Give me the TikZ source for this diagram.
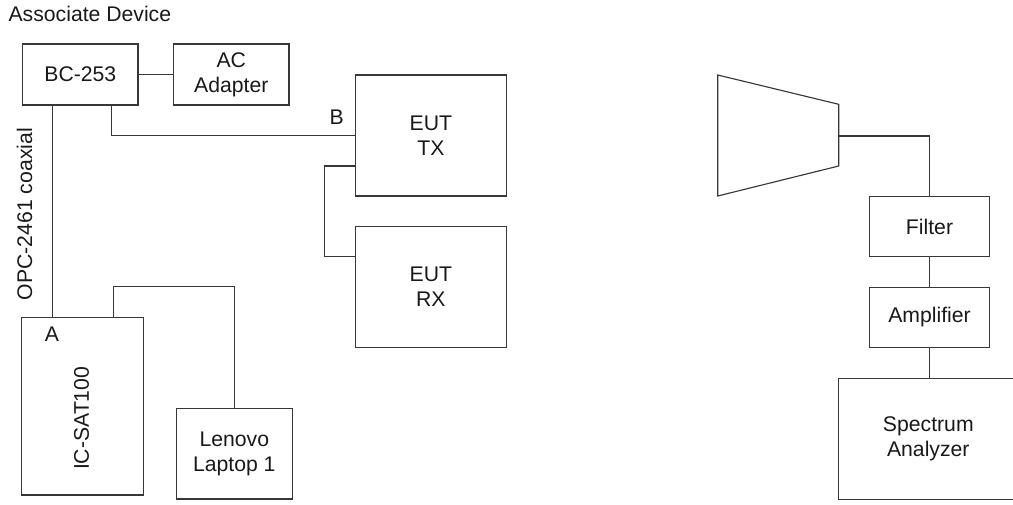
\documentclass[tikz,border=0pt]{standalone}
\usepackage{fontspec}
\setmainfont{Liberation Sans}
\usetikzlibrary{calc}
\newcommand{\px}{0.75pt}
\definecolor{linec}{RGB}{55,55,55}
\definecolor{textc}{RGB}{25,25,25}
\begin{document}
\begin{tikzpicture}[x=0.75pt,y=-0.75pt,
  every node/.style={text=textc, font=\fontsize{15.9}{18.75}\selectfont, inner sep=0pt},
  box/.style={draw=linec, line width=0.85pt, rectangle, align=center},
  wire/.style={draw=linec, line width=0.85pt},
  lbl/.style={}]
\useasboundingbox (0,0) rectangle (1013,504);
\clip (0,0) rectangle (1013,504);

\node[anchor=base west] (title) at (8.3,21.7) {Associate Device};

\node[box, minimum width=115.3*\px, minimum height=61*\px] (bc) at (80.3,74.5) {BC-253};
\node[box, minimum width=115.3*\px, minimum height=61*\px] (ac) at (231.3,74.5) {AC\\Adapter};
\node[box, minimum width=150.8*\px, minimum height=121*\px] (tx) at (430.9,135.5) {EUT\\TX};
\node[box, minimum width=150.8*\px, minimum height=120.6*\px] (rx) at (430.9,287) {EUT\\RX};
\node[box, minimum width=122.4*\px, minimum height=177.7*\px] (sat) at (82.5,406.2) {};
\node[rotate=90] (sattext) at (81.7,418.3) {IC-SAT100};
\node[box, minimum width=116*\px, minimum height=90.3*\px] (len) at (234.3,453.8) {Lenovo\\Laptop 1};
\node[box, minimum width=120.4*\px, minimum height=60*\px] (filt) at (929.5,226.7) {Filter};
\node[box, minimum width=120.4*\px, minimum height=59.6*\px] (amp) at (929.5,317.5) {Amplifier};
\node[box, minimum width=179.3*\px, minimum height=121*\px] (sa) at (928.3,438.8) {Spectrum\\Analyzer};

\node (labA) at (52,334) {A};
\node (labB) at (336.7,117.5) {B};
\node[rotate=90] (coaxlbl) at (24.6,214) {OPC-2461 coaxial};

% horn antenna
\draw[wire, line join=miter] (717.7,75) -- (838.7,104.3) -- (838.7,166) -- (717.7,196) -- cycle;
\coordinate (hornport) at (838.7,136);

% connectors
\draw[wire] (bc.east) -- (ac.west);
\draw[wire] ($(bc.south)+(31.4,0)$) |- (tx.west);
\draw[wire] ($(tx.west)+(0,30.5)$) -- ++(-30.5,0) |- ($(rx.west)+(0,-30.3)$);
\path (bc.south) ++(-27.6,0) coordinate (c1);
\draw[wire] (c1) -- (c1 |- sat.north);
\draw[wire] ($(sat.north)+(30.8,0)$) -- ++(0,-30.3) -| (len.north);
\draw[wire] (hornport) -| ($(filt.north)+(-0.2,0)$);
\draw[wire] (filt.south) -- (amp.north);
\draw[wire] (amp.south) -- (amp.south |- sa.north);
\end{tikzpicture}
\end{document}
